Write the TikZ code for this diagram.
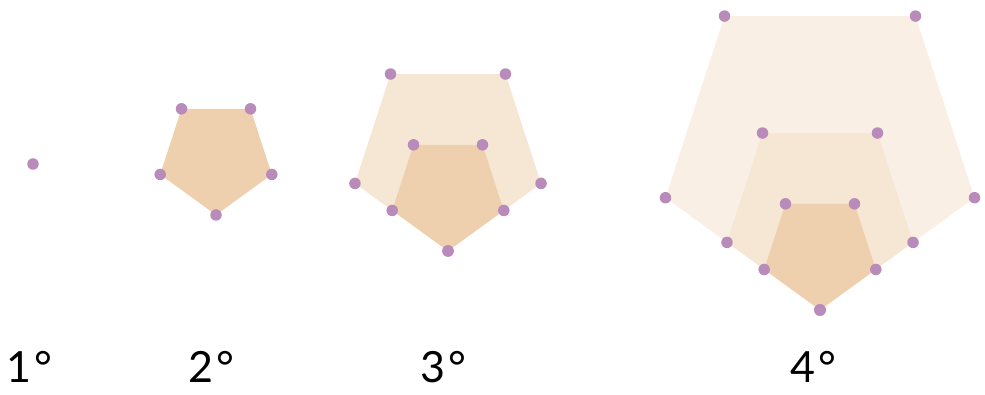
\documentclass[tikz,border=0pt]{standalone}
\usepackage{fontspec}
\setmainfont{Lato}
\usetikzlibrary{calc}
\definecolor{dotc}{RGB}{185,139,186}
\definecolor{pinner}{RGB}{238,208,174}
\definecolor{pmid}{RGB}{246,230,212}
\definecolor{pouter}{RGB}{250,239,228}
\tikzstyle{pdot}=[circle, fill=dotc, inner sep=0pt, minimum size=11.5pt]
\tikzstyle{lbl}=[font=\fontsize{43}{48}\selectfont, anchor=base]

% pentagon standing on its bottom vertex: name, bottom point, side, fill
\newcommand{\pentagon}[4]{%
  \coordinate (#1-0) at (#2);
  \coordinate (#1-1) at ($(#1-0)+(144:#3pt)$);
  \coordinate (#1-2) at ($(#1-1)+(72:#3pt)$);
  \coordinate (#1-3) at ($(#1-2)+(0:#3pt)$);
  \coordinate (#1-4) at ($(#1-3)+(-72:#3pt)$);
  \fill[#4] (#1-0) -- (#1-1) -- (#1-2) -- (#1-3) -- (#1-4) -- cycle;
}
\newcommand{\pdots}[1]{%
  \foreach \i in {0,...,4} \node[pdot] (#1-d\i) at (#1-\i) {};
}

\begin{document}
\begin{tikzpicture}[x=1pt, y=1pt]
  \useasboundingbox (0,0) rectangle (985,395);
  % fills, largest first
  \pentagon{bB}{216,180}{69}{pinner}
  \pentagon{cB}{448,144}{115}{pmid}
  \pentagon{cA}{448,144}{69}{pinner}
  \pentagon{dC}{820,85}{191}{pouter}
  \pentagon{dB}{820,85}{115}{pmid}
  \pentagon{dA}{820,85}{69}{pinner}
  % dots
  \node[pdot] (a0) at (33,231) {};
  \pdots{bB}
  \pdots{cB}
  \pdots{cA}
  \pdots{dC}
  \pdots{dB}
  \pdots{dA}
  % labels
  \node[lbl] (l1) at (29,12) {1\kern3pt°};
  \node[lbl] (l2) at (211,12) {2\kern3pt°};
  \node[lbl] (l3) at (443,12) {3\kern3pt°};
  \node[lbl] (l4) at (813,12) {4\kern3pt°};
\end{tikzpicture}
\end{document}
